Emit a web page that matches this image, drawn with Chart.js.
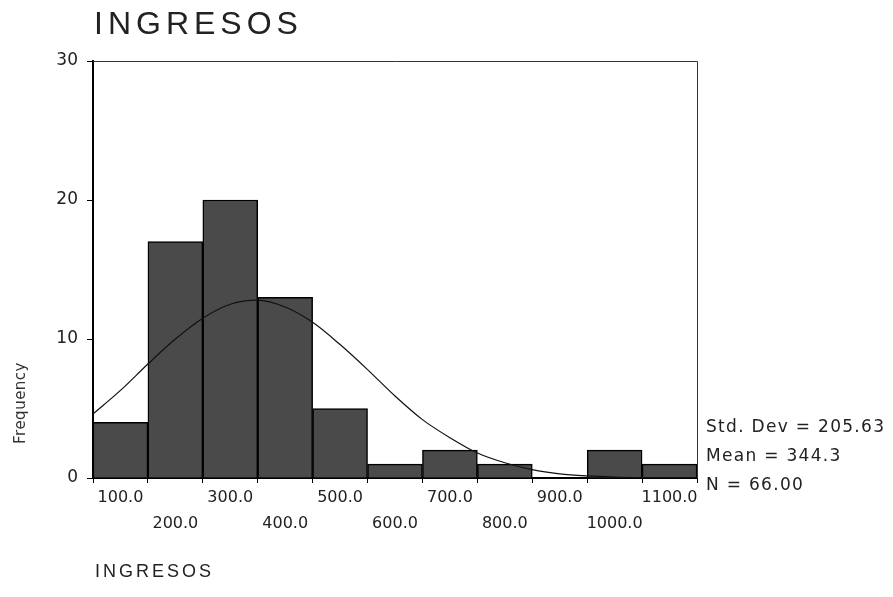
<!DOCTYPE html>
<html>
<head>
<meta charset="utf-8">
<script src="https://cdn.jsdelivr.net/npm/chart.js@4/dist/chart.umd.min.js"></script>
<style>
  html, body { margin: 0; padding: 0; background: #fff; }
  #wrap { width: 893px; height: 597px; }
</style>
</head>
<body>
<div id="wrap"><canvas id="hist" width="893" height="597"></canvas></div>
<script>
// histogram bins (centres) and counts
const binCenters = [100, 200, 300, 400, 500, 600, 700, 800, 900, 1000, 1100];
const frequencies = [4, 17, 20, 13, 5, 1, 2, 1, 0, 2, 1];

// normal curve
const curveX = [50, 100, 150, 200, 250, 300, 350, 400, 450, 500, 550, 600,
                650, 700, 750, 800, 850, 900, 950, 1000, 1050, 1100, 1150];
const curveY = [4.6, 6.3, 8.2, 10.0, 11.5, 12.5, 12.8, 12.3, 11.2, 9.6, 7.8, 5.9,
                4.2, 2.9, 1.8, 1.1, 0.6, 0.3, 0.15, 0.07, 0.03, 0.01, 0];

const xTicks = [100, 200, 300, 400, 500, 600, 700, 800, 900, 1000, 1100];
const yTicks = [0, 10, 20, 30];

const chartTitle = "INGRESOS";
const xTitle = "INGRESOS";
const yTitle = "Frequency";
const statLines = ["Std. Dev = 205.63", "Mean = 344.3", "N = 66.00"];

// extra texts + thin top/right frame
const decor = {
    id: "decor",
    afterDraw(chart) {
        const ctx = chart.ctx;
        const a = chart.chartArea;
        ctx.save();
        ctx.strokeStyle = "#333";
        ctx.lineWidth = 1;
        ctx.beginPath();
        ctx.moveTo(a.left, a.top + 0.5);
        ctx.lineTo(a.right + 0.5, a.top + 0.5);
        ctx.lineTo(a.right + 0.5, a.bottom);
        ctx.stroke();

        ctx.fillStyle = "#222";
        ctx.textAlign = "left";
        ctx.textBaseline = "alphabetic";
        ctx.font = "32px 'Liberation Sans'";
        ctx.letterSpacing = "5px";
        ctx.fillText(chartTitle, 94, 34);

        ctx.font = "18px 'Liberation Sans'";
        ctx.letterSpacing = "3px";
        ctx.fillText(xTitle, 95, 577);

        ctx.font = "17px 'DejaVu Sans'";
        ctx.letterSpacing = "1.3px";
        ctx.textBaseline = "middle";
        statLines.forEach(function (s, i) {
            ctx.fillText(s, a.right + 9, 428 + i * 29);
        });

        ctx.letterSpacing = "0.5px";
        ctx.font = "15px 'DejaVu Sans'";
        ctx.fillStyle = "#333";
        ctx.translate(21, 403);
        ctx.rotate(-Math.PI / 2);
        ctx.textAlign = "center";
        ctx.fillText(yTitle, 0, 0);
        ctx.restore();
    }
};

const ctx = document.getElementById("hist").getContext("2d");
new Chart(ctx, {
    data: {
        datasets: [
            {
                type: "line",
                data: curveX.map(function (x, i) { return { x: x, y: curveY[i] }; }),
                borderColor: "#111",
                borderWidth: 1.2,
                pointRadius: 0,
                cubicInterpolationMode: "monotone",
                fill: false,
                order: 0
            },
            {
                type: "bar",
                data: binCenters.map(function (x, i) { return { x: x, y: frequencies[i] }; }),
                backgroundColor: "#4a4a4a",
                borderColor: "#000",
                borderWidth: 1.5,
                barPercentage: 1,
                categoryPercentage: 1,
                order: 1
            }
        ]
    },
    options: {
        responsive: false,
        animation: false,
        devicePixelRatio: 1,
        layout: { padding: { top: 61, right: 196, left: 0, bottom: 0 } },
        plugins: {
            legend: { display: false },
            tooltip: { enabled: false }
        },
        scales: {
            x: {
                type: "linear",
                min: 50,
                max: 1150,
                offset: false,
                afterBuildTicks: function (scale) {
                    scale.ticks = xTicks.map(function (v) { return { value: v }; });
                },
                afterFit: function (scale) { scale.height = 119; },
                grid: { drawOnChartArea: false, drawTicks: true, tickLength: 5, color: "#000" },
                border: { display: true, color: "#000", width: 2 },
                ticks: {
                    autoSkip: false,
                    maxRotation: 0,
                    padding: 2,
                    color: "#222",
                    font: { family: "DejaVu Sans", size: 16, lineHeight: "26px" },
                    callback: function (v) {
                        const s = v.toFixed(1);
                        return (v / 100) % 2 === 1 ? s : ["", s];
                    }
                }
            },
            y: {
                min: 0,
                max: 30,
                afterBuildTicks: function (scale) {
                    scale.ticks = yTicks.map(function (v) { return { value: v }; });
                },
                afterFit: function (scale) { scale.width = 93; },
                grid: { drawOnChartArea: false, drawTicks: true, tickLength: 6, color: "#000" },
                border: { display: true, color: "#000", width: 2 },
                ticks: {
                    padding: 9,
                    color: "#222",
                    font: { family: "DejaVu Sans", size: 17 }
                }
            }
        }
    },
    plugins: [decor]
});
</script>
</body>
</html>
